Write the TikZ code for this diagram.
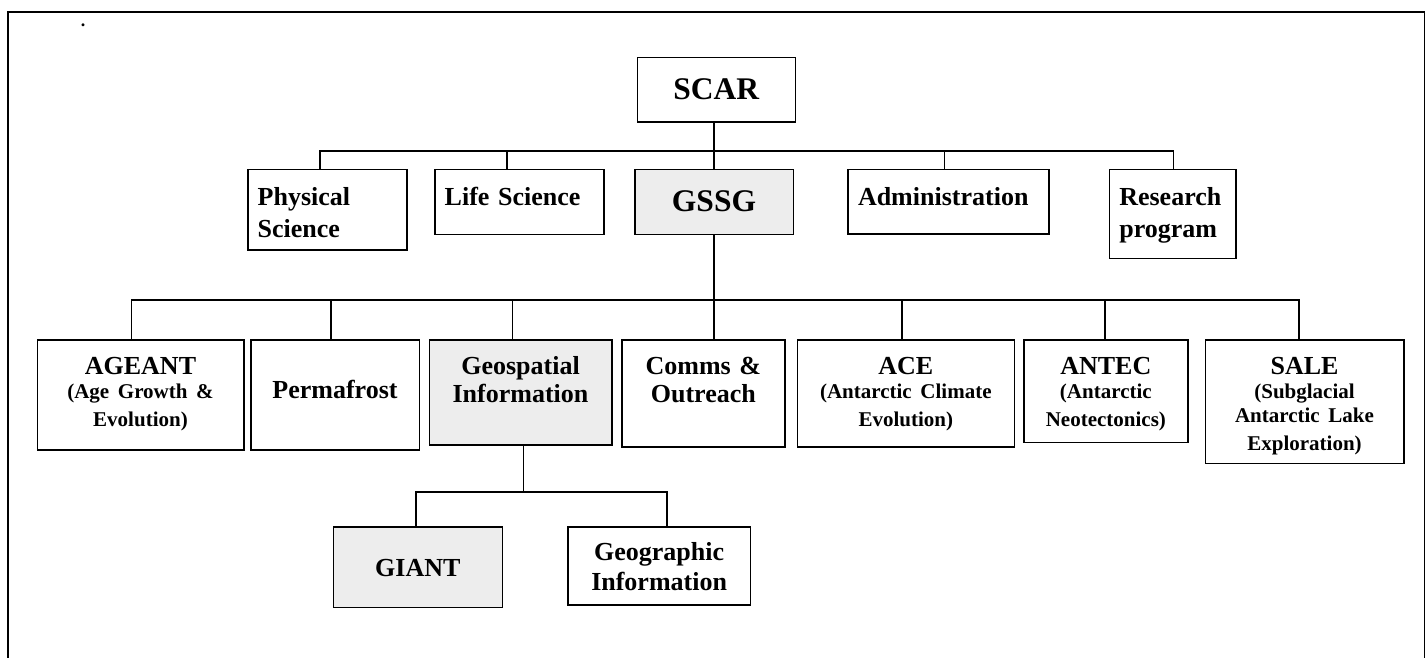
\documentclass[tikz,border=0pt]{standalone}
\usepackage{fontspec}
\setmainfont{Liberation Serif}
\definecolor{boxgray}{RGB}{237,237,237}
\newcommand\subtext{\fontsize{21}{24}\selectfont}

\begin{document}
\begin{tikzpicture}[x=1pt,y=-1pt,
    unit/.style={draw,line width=1.6pt,anchor=north west,inner ysep=0pt,
      inner xsep=4pt,outer sep=0pt,align=center,
      font=\bfseries\fontsize{26}{28.7}\selectfont},
    lead/.style={unit,inner xsep=0pt,font=\bfseries\fontsize{31.5}{36}\selectfont},
    side/.style={unit,inner xsep=10pt,align=left,font=\bfseries\fontsize{26}{32}\selectfont},
    shaded/.style={fill=boxgray},
    link/.style={draw,line width=1.6pt}] % SCAR > GSSG > Geospatial Information
  \useasboundingbox (0,0) rectangle (1427,658);
  \draw[line width=1.3pt] (8,658) -- (8,12) -- (1424.5,12) -- (1424.5,658);
  \node[font=\bfseries\fontsize{18}{20}\selectfont,inner sep=0pt] (dot) at (83,25) {.};

  % top
  \node[lead,text width=158pt,text height=41.6pt,text depth=22.7pt] (scar) at (637.3,57.7) {SCAR};

  % first row
  \node[side,text width=139pt,text height=36.2pt,text depth=44.3pt] (phys) at (247.7,169.5) {Physical\\Science};
  \node[side,text width=149pt,text height=36.2pt,text depth=28.6pt] (life) at (434.7,169.5) {Life Science};
  \node[lead,shaded,text width=158.6pt,text height=41.5pt,text depth=23.3pt] (gssg) at (634.7,169.5) {GSSG};
  \node[side,text width=181pt,text height=36.2pt,text depth=28.3pt] (admin) at (848,169.5) {Administration};
  \node[side,text width=106.4pt,text height=36.2pt,text depth=52.6pt] (resp) at (1109.3,169.5) {Research\\program};

  % second row
  \node[unit,text width=198.4pt,text height=34pt,text depth=76pt] (ageant) at (37.3,340) {AGEANT\\\subtext (Age Growth \&\\Evolution)};
  \node[unit,text width=160.6pt,text height=58.3pt,text depth=51.7pt] (perma) at (250.7,340) {Permafrost};
  \node[unit,shaded,text width=174.4pt,text height=34pt,text depth=70.7pt] (geosp) at (429.3,340) {Geospatial\\Information};
  \node[unit,text width=155.3pt,text height=34pt,text depth=73pt] (comms) at (621.7,340) {Comms \&\\Outreach};
  \node[unit,text width=209pt,text height=34pt,text depth=73pt] (ace) at (797.3,340) {ACE\\\subtext (Antarctic Climate\\Evolution)};
  \node[unit,text width=155.7pt,text height=34pt,text depth=68.3pt] (antec) at (1024,340) {ANTEC\\\subtext (Antarctic\\Neotectonics)};
  \node[unit,text width=190.4pt,text height=34pt,text depth=89.3pt] (sale) at (1205.3,340) {SALE\\\subtext (Subglacial\\Antarctic Lake\\Exploration)};

  % third row
  \node[unit,shaded,text width=161pt,text height=49.7pt,text depth=30.6pt] (giant) at (333.3,527) {GIANT};
  \node[unit,text width=174.3pt,text height=33pt,text depth=44.7pt,
    font=\bfseries\fontsize{26}{30}\selectfont] (geogr) at (568,527) {Geographic\\Information};

  % connectors
  \draw[link] (scar.south -| gssg.north) -- (gssg.north);
  \draw[link] ([xshift=-7pt]phys.north) -- ++(0,-18.5) -| ([xshift=1pt]resp.north);
  \draw[link] ([xshift=-12pt]life.north) -- ++(0,-18.5);
  \draw[link] ([xshift=-4pt]admin.north) -- ++(0,-18.5);

  \draw[link] (gssg.south) -- (gssg.south |- comms.north);
  \draw[link] ([xshift=-9pt]ageant.north) -- ++(0,-40) -| ([xshift=-5.5pt]sale.north);
  \draw[link] ([xshift=-4pt]perma.north) -- ++(0,-40);
  \draw[link] ([xshift=-8pt]geosp.north) -- ++(0,-40);
  \draw[link] ([xshift=-4pt]ace.north) -- ++(0,-40);
  \draw[link] ([xshift=-1pt]antec.north) -- ++(0,-40);

  \draw[link] ([xshift=3pt]geosp.south) -- ++(0,47.3);
  \draw[link] ([xshift=-2pt]giant.north) -- ++(0,-35) -| ([xshift=8pt]geogr.north);
\end{tikzpicture}
\end{document}
